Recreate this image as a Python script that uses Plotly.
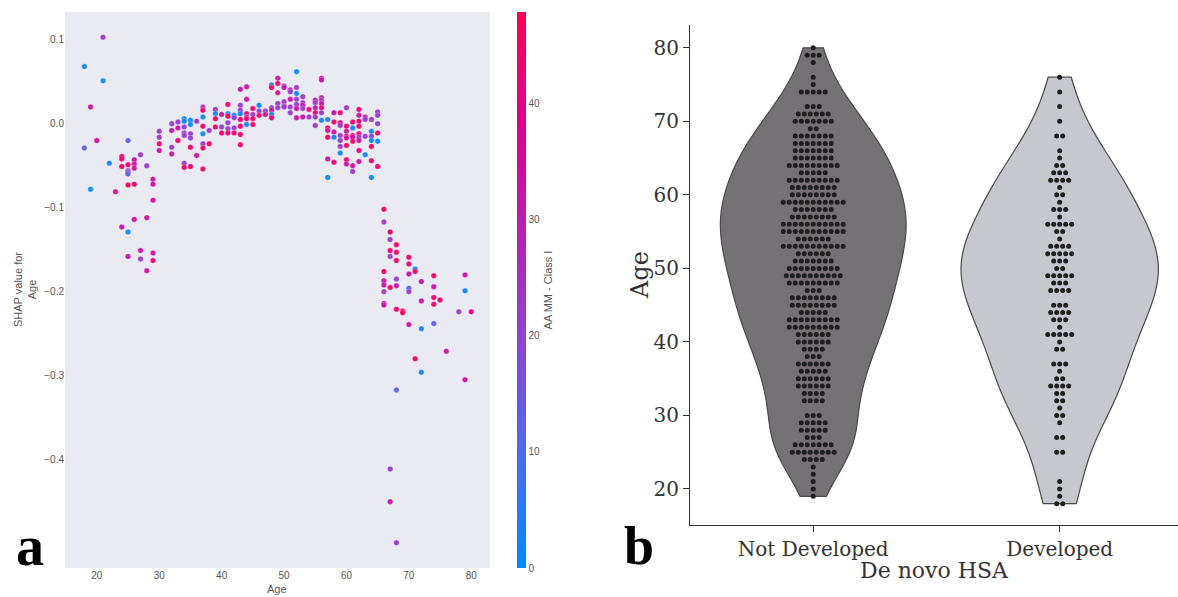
import numpy as np
import plotly.graph_objects as go

# ---------------- panel a: SHAP dependence plot for Age ----------------
# colour codes for AA MM - Class I (roughly 2 = low ... 44 = high)
shap_age = (
    [18, 18, 19, 19, 20, 21, 21, 22, 23]
    + [24] * 4 + [25] * 8 + [26] * 5 + [27] * 3 + [28] * 3 + [29] * 5 + [30] * 4
    + [32] * 4 + [33] * 3 + [34] * 7 + [35] * 6 + [36] * 2 + [37] * 8 + [38] * 2
    + [39] * 4 + [40] * 3 + [41] * 6 + [42] * 4 + [43] * 8 + [44] * 6 + [45] * 4
    + [46] * 3 + [47] * 2 + [48] * 6 + [49] * 5 + [50] * 5 + [51] * 5 + [52] * 7
    + [53] * 5 + [54] * 2 + [55] * 6 + [56] * 8 + [57] * 6 + [58] * 5 + [59] * 7
    + [60] * 8 + [61] * 7 + [62] * 9 + [63] * 4 + [64] * 7 + [65] * 6 + [66] * 8
    + [67] * 7 + [68] * 8 + [69] * 2 + [70] * 6 + [71] * 3 + [72] * 4 + [74] * 5
    + [75, 76, 78, 79, 79, 79, 80]
)
shap_value = [
    0.068, -0.029, 0.020, -0.078, -0.020, 0.103, 0.051, -0.047, -0.081,
    -0.039, -0.042, -0.051, -0.123,
    -0.020, -0.049, -0.056, -0.058, -0.060, -0.073, -0.129, -0.158,
    -0.043, -0.048, -0.053, -0.072, -0.114,
    -0.037, -0.151, -0.161,
    -0.050, -0.112, -0.175,
    -0.066, -0.072, -0.091, -0.154, -0.163,
    -0.009, -0.016, -0.024, -0.032,
    0.000, -0.008, -0.028, -0.036,
    0.002, -0.005, -0.020,
    0.006, 0.003, -0.004, -0.011, -0.014, -0.047, -0.052,
    0.004, -0.001, -0.012, -0.017, -0.028, -0.051,
    0.003, -0.038,
    0.020, 0.016, 0.008, -0.003, -0.012, -0.024, -0.029, -0.054,
    -0.008, -0.024,
    0.017, 0.012, 0.006, -0.004,
    0.011, -0.004, -0.011,
    0.023, 0.012, 0.009, 0.001, -0.006, -0.011,
    0.010, 0.007, -0.005, -0.011,
    0.041, 0.022, 0.016, 0.012, 0.005, -0.003, -0.013, -0.025,
    0.044, 0.029, 0.012, 0.008, 0.006, -0.001,
    0.018, 0.011, 0.006, -0.001,
    0.022, 0.015, 0.010,
    0.015, 0.011,
    0.046, 0.043, 0.019, 0.016, 0.011, 0.007,
    0.054, 0.048, 0.037, 0.024, 0.019,
    0.045, 0.043, 0.026, 0.021, 0.020,
    0.040, 0.038, 0.029, 0.020, 0.013,
    0.062, 0.043, 0.036, 0.029, 0.023, 0.018, 0.007,
    0.032, 0.025, 0.022, 0.018, 0.008,
    0.017, 0.008,
    0.028, 0.025, 0.019, 0.013, 0.008, -0.002,
    0.054, 0.052, 0.031, 0.028, 0.024, 0.019, 0.013, 0.004,
    0.005, -0.005, -0.008, -0.016, -0.042, -0.064,
    0.013, 0.002, -0.010, -0.016, -0.046,
    0.013, 0.001, -0.002, -0.014, -0.020, -0.027, -0.035,
    0.019, -0.003, -0.009, -0.015, -0.017, -0.026, -0.043, -0.048,
    0.002, -0.005, -0.014, -0.016, -0.021, -0.050, -0.057,
    0.017, 0.010, 0.003, -0.003, -0.012, -0.016, -0.020, -0.032, -0.045,
    0.008, 0.005, -0.015, -0.037,
    0.005, -0.009, -0.015, -0.020, -0.027, -0.044, -0.064,
    0.014, 0.010, 0.000, -0.011, -0.021, -0.051,
    -0.102, -0.117, -0.176, -0.187, -0.192, -0.200, -0.214, -0.216,
    -0.129, -0.138, -0.151, -0.158, -0.195, -0.411, -0.450,
    -0.144, -0.153, -0.163, -0.185, -0.193, -0.221, -0.317, -0.499,
    -0.223, -0.225,
    -0.159, -0.167, -0.179, -0.196, -0.200, -0.239,
    -0.173, -0.176, -0.280,
    -0.188, -0.211, -0.244, -0.296,
    -0.181, -0.194, -0.207, -0.215, -0.238,
    -0.210, -0.271, -0.224, -0.180, -0.199, -0.305, -0.224,
]
aa_mm_class1 = [
    2, 12, 33, 2, 33, 22, 2, 2, 33,
    44, 44, 44, 33,
    12, 44, 22, 22, 12, 44, 2, 33,
    33, 33, 33, 44, 33,
    22, 33, 22,
    22, 33, 33,
    33, 33, 33, 33, 44,
    22, 22, 44, 33,
    22, 33, 22, 33,
    22, 33, 44,
    2, 2, 22, 22, 22, 22, 44,
    2, 2, 22, 22, 44, 44,
    22, 33,
    22, 44, 2, 44, 2, 22, 44, 44,
    22, 44,
    22, 2, 44, 44,
    33, 22, 44,
    44, 2, 44, 22, 22, 44,
    2, 22, 22, 44,
    33, 22, 22, 2, 44, 44, 44, 44,
    33, 33, 44, 22, 44, 2,
    44, 22, 44, 44,
    2, 22, 44,
    22, 33,
    2, 44, 22, 33, 2, 44,
    33, 44, 33, 22, 22,
    22, 33, 22, 33, 22,
    33, 22, 33, 22, 22,
    2, 22, 2, 22, 22, 33, 33,
    22, 22, 33, 22, 33,
    44, 22,
    33, 22, 33, 44, 22, 22,
    33, 33, 33, 22, 33, 44, 22, 2,
    2, 44, 33, 44, 33, 2,
    33, 44, 33, 2, 44,
    44, 44, 22, 22, 22, 22, 2,
    22, 44, 33, 44, 33, 44, 44, 33,
    44, 2, 44, 33, 44, 33, 22,
    44, 33, 44, 44, 44, 22, 33, 44, 33,
    33, 22, 22, 2,
    22, 2, 22, 2, 44, 44, 2,
    22, 22, 22, 44, 2, 44,
    44, 22, 44, 33, 33, 22, 33, 33,
    44, 22, 44, 22, 44, 22, 33,
    44, 44, 44, 22, 33, 44, 12, 22,
    44, 44,
    44, 44, 33, 12, 22, 33,
    2, 44, 44,
    33, 33, 2, 2,
    44, 33, 44, 44, 12,
    44, 33, 22, 33, 2, 33, 44,
]
shap_ticks = [0.1, 0.0, -0.1, -0.2, -0.3, -0.4]
shap_ticktext = ["0.1", "0.0", "\u22120.1", "\u22120.2", "\u22120.3", "\u22120.4"]
age_ticks = [20, 30, 40, 50, 60, 70, 80]
aa_ticks = [0, 10, 20, 30, 40]

# ---------------- panel b: age by de novo HSA status ----------------
groups = ["Not Developed", "Developed"]
nd_age = list(range(19, 81))
nd_count = [1, 1, 1, 1, 1, 4, 8, 7, 3, 5, 5, 3, 0, 4, 4, 6, 6, 5, 6, 3, 4, 6,
            6, 9, 9, 5, 8, 8, 3, 9, 10, 9, 7, 6, 11, 6, 11, 11, 8, 7, 11, 8,
            8, 9, 5, 9, 7, 7, 7, 7, 2, 7, 6, 3, 0, 5, 1, 1, 0, 1, 3, 1]
dev_age = list(range(18, 77))
dev_count = [2, 1, 1, 1, 0, 0, 0, 2, 0, 2, 0, 1, 2, 1, 2, 2, 4, 2, 1, 3, 0, 2,
             1, 5, 1, 3, 4, 3, 0, 4, 3, 5, 2, 3, 5, 4, 1, 2, 5, 1, 3, 1, 2, 1,
             4, 3, 2, 1, 1, 0, 2, 0, 1, 0, 1, 0, 1, 0, 1]
age_ticks_b = [20, 30, 40, 50, 60, 70, 80]

W, H = 1178, 597
SANS = "Liberation Sans, Arial, sans-serif"
SERIF = "DejaVu Serif, serif"

shap_colors = [
    [0.0, "#008bfb"], [0.2, "#4b6cf0"], [0.4, "#8a45d6"],
    [0.6, "#b820b4"], [0.8, "#df0090"], [1.0, "#ff0052"],
]

fig = go.Figure()

fig.add_trace(go.Scatter(
    x=shap_age, y=shap_value, mode="markers", xaxis="x", yaxis="y",
    marker=dict(
        size=5.5, color=aa_mm_class1, colorscale=shap_colors, cmin=0, cmax=47.9,
        opacity=0.95, line=dict(width=0.4, color="rgba(255,255,255,0.7)"),
        colorbar=dict(
            x=517 / W, xanchor="left", xref="paper", xpad=0, ypad=0,
            y=1 - 290 / H, yanchor="middle", yref="paper",
            len=556 / H, lenmode="fraction", thickness=9,
            outlinewidth=0, tickvals=aa_ticks, ticks="", ticklabelposition="outside",
            tickfont=dict(family=SANS, size=10, color="#555"),
            title=dict(text="AA MM - Class I", side="right",
                       font=dict(family=SANS, size=11, color="#555")),
        ),
    ),
    showlegend=False, hoverinfo="skip",
))


def expand(ages, counts):
    return [a for a, c in zip(ages, counts) for _ in range(c)]


def swarm(ages, counts, center, step):
    xs, ys = [], []
    for a, c in zip(ages, counts):
        for i in range(c):
            xs.append(center + (i - (c - 1) / 2) * step)
            ys.append(a)
    return xs, ys


violin_style = [
    (nd_age, nd_count, "#767175", 0.753),
    (dev_age, dev_count, "#c7c7cf", 0.80),
]
for k, (ages, counts, fill, width) in enumerate(violin_style):
    data = np.array(expand(ages, counts), dtype=float)
    bw = data.std(ddof=1) * len(data) ** (-0.2)
    fig.add_trace(go.Violin(
        y=data, x0=k, xaxis="x2", yaxis="y2", name=groups[k],
        fillcolor=fill, line=dict(color="#4a4a4a", width=1.2), opacity=1,
        points=False, box_visible=False, meanline_visible=False,
        spanmode="hard", bandwidth=bw, width=width, scalemode="width",
        showlegend=False, hoverinfo="skip",
    ))

for k, (ages, counts) in enumerate([(nd_age, nd_count), (dev_age, dev_count)]):
    xs, ys = swarm(ages, counts, k, 0.0243)
    fig.add_trace(go.Scatter(
        x=xs, y=ys, mode="markers", xaxis="x2", yaxis="y2",
        marker=dict(size=5, color="#1f1f1f"), showlegend=False, hoverinfo="skip",
    ))


def label(text, x, y, font, angle=0, xanchor="center", yanchor="middle"):
    return dict(text=text, x=x / W, y=1 - y / H, xref="paper", yref="paper",
                xanchor=xanchor, yanchor=yanchor, textangle=angle,
                showarrow=False, font=font)


fig.update_layout(
    width=W, height=H, margin=dict(l=0, r=0, t=0, b=0),
    paper_bgcolor="white", plot_bgcolor="rgba(0,0,0,0)",
    violinmode="overlay",
    xaxis=dict(domain=[65 / W, 490 / W], range=[14.9, 83.0], tickvals=age_ticks,
               showgrid=False, zeroline=False, showline=False, ticks="",
               tickfont=dict(family=SANS, size=10, color="#555"), anchor="y"),
    yaxis=dict(domain=[1 - 568 / H, 1 - 12 / H], range=[-0.529, 0.133],
               tickvals=shap_ticks, ticktext=shap_ticktext,
               showgrid=False, zeroline=False, showline=False, ticks="",
               tickfont=dict(family=SANS, size=10, color="#555"), anchor="x"),
    xaxis2=dict(domain=[690 / W, 1.0], range=[-0.5, 1.48], tickvals=[0, 1],
                ticktext=groups, showgrid=False, zeroline=False, showline=True,
                linecolor="#333", linewidth=1.2, ticks="outside", ticklen=6,
                tickcolor="#333", tickfont=dict(family=SERIF, size=20, color="#333"),
                anchor="y2"),
    yaxis2=dict(domain=[1 - 525 / H, 1 - 25 / H], range=[15.1, 83.1],
                tickvals=age_ticks_b, showgrid=False, zeroline=False, showline=True,
                linecolor="#333", linewidth=1.2, ticks="outside", ticklen=6,
                tickcolor="#333", tickfont=dict(family=SERIF, size=20, color="#333"),
                anchor="x2"),
    shapes=[dict(type="rect", xref="x domain", yref="y domain", x0=0, x1=1,
                 y0=0, y1=1, fillcolor="#eaeaf2", line=dict(width=0), layer="below")],
    annotations=[
        label("SHAP value for<br>Age", 25, 290,
              dict(family=SANS, size=11, color="#555"), angle=-90),
        label("Age", 277, 589, dict(family=SANS, size=11, color="#555")),
        label("Age", 640, 275, dict(family=SERIF, size=24, color="#333"), angle=-90),
        label("De novo HSA", 934, 570, dict(family=SERIF, size=22, color="#333")),
        label("<b>a</b>", 30, 579,
              dict(family="Liberation Serif, serif", size=56, color="black"),
              yanchor="bottom"),
        label("<b>b</b>", 639, 578,
              dict(family="Liberation Serif, serif", size=54, color="black"),
              yanchor="bottom"),
    ],
)

fig.write_html("out.html")
